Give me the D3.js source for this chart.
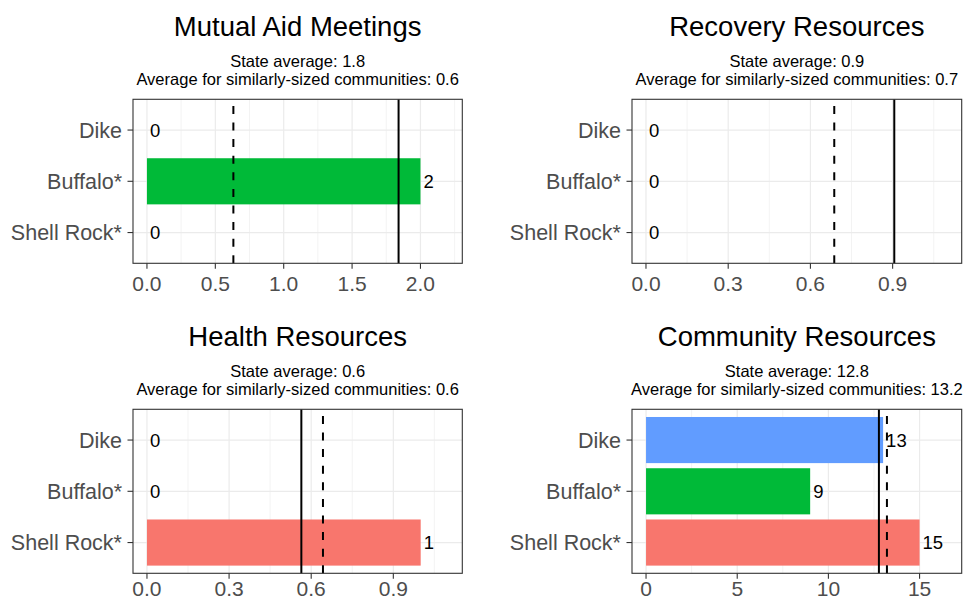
<!DOCTYPE html>
<html>
<head>
<meta charset="utf-8">
<title>Community resources</title>
<style>
  body { margin: 0; background: #fff; }
  svg text { font-family: "Liberation Sans", Arial, sans-serif; }
  .title { font-size: 27.5px; fill: #000; text-anchor: middle; }
  .subtitle { font-size: 16.5px; fill: #000; text-anchor: middle; }
  .cat { font-size: 21.5px; fill: #4d4d4d; text-anchor: end; }
  .tick-lab { font-size: 21px; fill: #4d4d4d; text-anchor: middle; }
  .val { font-size: 18.5px; fill: #000; }
</style>
<script src="https://d3js.org/d3.v7.min.js"></script>
</head>
<body>
<svg width="963" height="601"></svg>
<script>
// ---- data ----
var communities = ["Dike", "Buffalo*", "Shell Rock*"];
var barColors = ["#619CFF", "#00BA38", "#F8766D"];

var panelTitles = ["Mutual Aid Meetings", "Recovery Resources", "Health Resources", "Community Resources"];
var mutualAid = [0, 2, 0];
var recovery = [0, 0, 0];
var health = [0, 0, 1];
var communityRes = [13, 9, 15];

var stateAvg = [1.84, 0.906, 0.564, 12.77];
var similarAvg = [0.632, 0.687, 0.643, 13.21];

var xLimits = [[-0.102, 2.306], [-0.051, 1.152], [-0.051, 1.152], [-0.77, 17.31]];
var xTicks = [[0, 0.5, 1, 1.5, 2], [0, 0.3, 0.6, 0.9], [0, 0.3, 0.6, 0.9], [0, 5, 10, 15]];
var tickLabels = [["0.0", "0.5", "1.0", "1.5", "2.0"], ["0.0", "0.3", "0.6", "0.9"], ["0.0", "0.3", "0.6", "0.9"], ["0", "5", "10", "15"]];

var series = [mutualAid, recovery, health, communityRes];

// ---- layout ----
var svg = d3.select("svg");
var fmt = d3.format(".1f");
var cols = [[133, 462.3], [632, 961.7]];
var rows = [[99.3, 263.3], [409.3, 573.3]];
var tickLabGap = [28, 23]; // bottom row pulled up so it stays inside the window

series.forEach(function(vals, i) {
  var row = Math.floor(i / 2);
  var xr = cols[i % 2], yr = rows[row];
  var x = d3.scaleLinear().domain(xLimits[i]).range(xr);
  var y = d3.scaleBand().domain(communities).range(yr).paddingInner(0.1).paddingOuter(0.15);
  var g = svg.append("g");
  var cx = (xr[0] + xr[1]) / 2;

  // titles
  g.append("text").attr("class", "title").attr("x", cx).attr("y", yr[0] - 63.5).text(panelTitles[i]);
  g.append("text").attr("class", "subtitle").attr("x", cx).attr("y", yr[0] - 32.5)
    .text("State average: " + fmt(stateAvg[i]));
  g.append("text").attr("class", "subtitle").attr("x", cx).attr("y", yr[0] - 14)
    .text("Average for similarly-sized communities: " + fmt(similarAvg[i]));

  // minor grid: midpoints between majors, extended one step each side
  var t = xTicks[i], step = t[1] - t[0];
  var minor = [];
  for (var k = -1; k < t.length; k++) {
    var m = t[0] + (k + 0.5) * step;
    if (m > xLimits[i][0] && m < xLimits[i][1]) minor.push(m);
  }
  g.selectAll(".minor").data(minor).enter().append("line")
    .attr("x1", d => x(d)).attr("x2", d => x(d))
    .attr("y1", yr[0]).attr("y2", yr[1])
    .attr("stroke", "#ebebeb").attr("stroke-width", 0.6);
  g.selectAll(".major").data(t).enter().append("line")
    .attr("x1", d => x(d)).attr("x2", d => x(d))
    .attr("y1", yr[0]).attr("y2", yr[1])
    .attr("stroke", "#ebebeb").attr("stroke-width", 1.2);
  g.selectAll(".hgrid").data(communities).enter().append("line")
    .attr("x1", xr[0]).attr("x2", xr[1])
    .attr("y1", d => y(d) + y.bandwidth() / 2).attr("y2", d => y(d) + y.bandwidth() / 2)
    .attr("stroke", "#ebebeb").attr("stroke-width", 1.2);

  // bars
  g.selectAll(".bar").data(vals).enter().append("rect")
    .attr("x", x(0))
    .attr("y", (d, j) => y(communities[j]))
    .attr("width", d => x(d) - x(0))
    .attr("height", y.bandwidth())
    .attr("fill", (d, j) => barColors[j]);

  // reference lines
  g.append("line")
    .attr("x1", x(similarAvg[i])).attr("x2", x(similarAvg[i]))
    .attr("y1", yr[1]).attr("y2", yr[0])
    .attr("stroke", "#000").attr("stroke-width", 2).attr("stroke-dasharray", "8,8.6");
  g.append("line")
    .attr("x1", x(stateAvg[i])).attr("x2", x(stateAvg[i]))
    .attr("y1", yr[1]).attr("y2", yr[0])
    .attr("stroke", "#000").attr("stroke-width", 2);

  // value labels
  g.selectAll(".val").data(vals).enter().append("text")
    .attr("class", "val")
    .attr("x", d => x(d) + 3)
    .attr("y", (d, j) => y(communities[j]) + y.bandwidth() / 2)
    .attr("dy", "0.36em")
    .text(d => d);

  // border
  g.append("rect").attr("x", xr[0]).attr("y", yr[0])
    .attr("width", xr[1] - xr[0]).attr("height", yr[1] - yr[0])
    .attr("fill", "none").attr("stroke", "#333").attr("stroke-width", 1.1);

  // y axis
  communities.forEach(function(c) {
    var yy = y(c) + y.bandwidth() / 2;
    g.append("line").attr("x1", xr[0] - 5.5).attr("x2", xr[0]).attr("y1", yy).attr("y2", yy)
      .attr("stroke", "#333").attr("stroke-width", 1.1);
    g.append("text").attr("class", "cat").attr("x", xr[0] - 11).attr("y", yy).attr("dy", "0.36em").text(c);
  });

  // x axis
  t.forEach(function(v, j) {
    g.append("line").attr("x1", x(v)).attr("x2", x(v)).attr("y1", yr[1]).attr("y2", yr[1] + 5.5)
      .attr("stroke", "#333").attr("stroke-width", 1.1);
    g.append("text").attr("class", "tick-lab").attr("x", x(v)).attr("y", yr[1] + tickLabGap[row]).text(tickLabels[i][j]);
  });
});
</script>
</body>
</html>
